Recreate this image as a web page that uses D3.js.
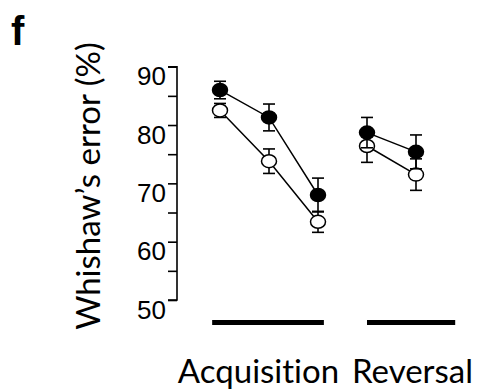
<!DOCTYPE html>
<html>
<head>
<meta charset="utf-8">
<script src="https://cdn.jsdelivr.net/npm/d3@7"></script>
<style>
  body { margin: 0; background: #fff; }
  svg { display: block; }
  text { font-variant-ligatures: none; }
</style>
</head>
<body>
<div id="chart"></div>
<script>
// session index: 0-2 acquisition, 3-4 reversal
var sessions = [0, 1, 2, 3, 4];
var filledMean = [86.0, 81.3, 68.0, 78.7, 75.4];
var filledErr  = [1.5, 2.3, 2.9, 2.6, 2.9];
var openMean   = [82.5, 73.8, 63.4, 76.4, 71.5];
var openErr    = [1.2, 2.1, 1.8, 2.8, 2.7];
var phaseNames = ["Acquisition", "Reversal"];
var phaseSpan  = [[-0.16, 2.12], [3.0, 4.8]];
var phaseRuns  = [[0, 1, 2], [3, 4]];
var yTicks     = [50, 55, 60, 65, 70, 75, 80, 85, 90];
var yLabels    = [50, 60, 70, 80, 90];

var width = 477,
    height = 390;

var svg = d3.select("#chart").append("svg")
    .attr("width", width)
    .attr("height", height);

var x = d3.scaleLinear().domain([0, 4]).range([220, 416]);
var y = d3.scaleLinear().domain([50, 90]).range([300, 66.7]);

// panel letter
svg.append("text")
    .attr("x", 11)
    .attr("y", 45)
    .style("font-family", "Liberation Sans, Arial, sans-serif")
    .style("font-weight", "bold")
    .style("font-size", "40px")
    .text("f");

// y axis
var yAxis = d3.axisLeft(y)
    .tickValues(yTicks)
    .tickSize(9)
    .tickFormat("");

var gy = svg.append("g")
    .attr("transform", "translate(177,0)")
    .call(yAxis);
gy.select(".domain").attr("d", "M-9," + y(90) + "H0V" + y(50) + "H-9")
    .attr("stroke", "#000").attr("stroke-width", 1.6).attr("fill", "none");
gy.selectAll(".tick line").attr("stroke", "#000").attr("stroke-width", 1.6);

svg.selectAll(".ylab")
    .data(yLabels)
  .enter().append("text")
    .attr("class", "ylab")
    .attr("x", 166)
    .attr("y", d => y(d) + 18.5)
    .attr("text-anchor", "end")
    .style("font-family", "Liberation Sans, Arial, sans-serif")
    .style("font-size", "26px")
    .text(d => d);

svg.append("text")
    .attr("transform", "translate(100,186) rotate(-90)")
    .attr("text-anchor", "middle")
    .style("font-family", "Lato, 'Open Sans', sans-serif")
    .style("font-size", "33px")
    .text("Whishaw\u2019s error (%)");

// phase bars
svg.selectAll(".phasebar")
    .data(phaseSpan)
  .enter().append("rect")
    .attr("class", "phasebar")
    .attr("x", d => x(d[0]))
    .attr("y", 320)
    .attr("width", d => x(d[1]) - x(d[0]))
    .attr("height", 5)
    .attr("fill", "#000");

svg.selectAll(".phasename")
    .data(phaseNames)
  .enter().append("text")
    .attr("class", "phasename")
    .attr("x", (d, i) => i == 0 ? 258.5 : 412.5)
    .attr("y", 383)
    .attr("text-anchor", "middle")
    .style("font-family", "Lato, 'Open Sans', sans-serif")
    .style("font-size", "33px")
    .text(d => d);

var line = d3.line()
    .x(d => x(d.s))
    .y(d => y(d.m));

function drawSeries(mean, err, fill) {
    var pts = sessions.map((s, i) => ({s: s, m: mean[i], e: err[i]}));

    phaseRuns.forEach(function(run) {
        svg.append("path")
            .datum(run.map(i => pts[i]))
            .attr("d", line)
            .attr("fill", "none")
            .attr("stroke", "#000")
            .attr("stroke-width", 1.5);
    });

    var g = svg.append("g");
    var eb = g.selectAll(".err").data(pts).enter().append("g");
    eb.append("line")
        .attr("x1", d => x(d.s)).attr("x2", d => x(d.s))
        .attr("y1", d => y(d.m + d.e)).attr("y2", d => y(d.m - d.e))
        .attr("stroke", "#000").attr("stroke-width", 1.6);
    [1, -1].forEach(function(sg) {
        eb.append("line")
            .attr("x1", d => x(d.s) - 6).attr("x2", d => x(d.s) + 6)
            .attr("y1", d => y(d.m + sg * d.e)).attr("y2", d => y(d.m + sg * d.e))
            .attr("stroke", "#000").attr("stroke-width", 1.6);
    });

    g.selectAll(".pt").data(pts).enter().append("ellipse")
        .attr("cx", d => x(d.s))
        .attr("cy", d => y(d.m))
        .attr("rx", 7.5)
        .attr("ry", 6.5)
        .attr("fill", fill)
        .attr("stroke", "#000")
        .attr("stroke-width", 1.5);
}

drawSeries(openMean, openErr, "#fff");
drawSeries(filledMean, filledErr, "#000");
</script>
</body>
</html>
